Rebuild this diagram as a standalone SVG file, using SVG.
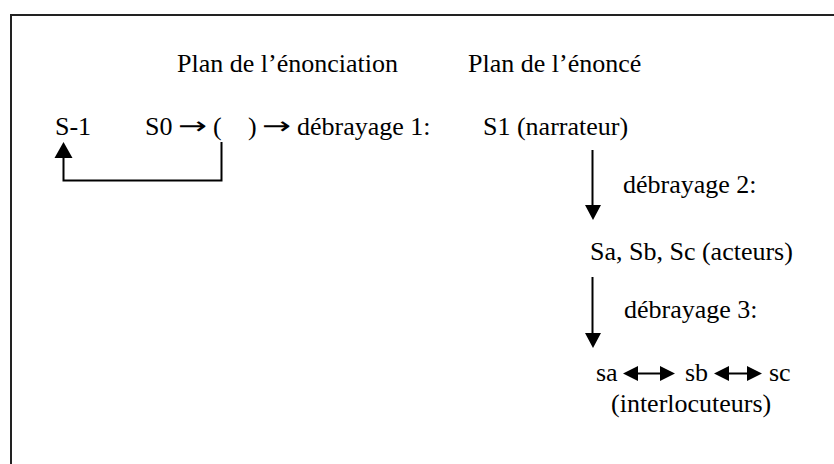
<svg xmlns="http://www.w3.org/2000/svg" width="834" height="464" viewBox="0 0 834 464">
<defs>
<style>
text{font-family:"Liberation Serif","Times New Roman",serif;font-size:26px;fill:#000}
text.arr{font-family:"DejaVu Sans",sans-serif;font-size:24px}
.ln{stroke:#000;stroke-width:2;fill:none}
.frame{stroke:#222;stroke-width:2;fill:none}
</style>
</defs>
<rect width="834" height="464" fill="#fff"/>
<path class="frame" d="M11,480 V15 H850"/>
<g id="plan-enonciation"><text x="177" y="72">Plan de l’énonciation</text></g>
<g id="plan-enonce"><text x="468" y="72">Plan de l’énoncé</text></g>
<g id="s-1"><text x="55" y="135">S-1</text></g>
<g id="s0">
<text x="145" y="135">S0</text>
<text class="arr" x="178" y="134" textLength="29" lengthAdjust="spacingAndGlyphs">→</text>
<text x="213" y="135">(</text>
<text x="248" y="135">)</text>
<text class="arr" x="262" y="134" textLength="29" lengthAdjust="spacingAndGlyphs">→</text>
<text x="297" y="135">débrayage 1:</text>
</g>
<g id="s1"><text x="483" y="135">S1 (narrateur)</text></g>
<g id="acteurs"><text x="590" y="260">Sa, Sb, Sc (acteurs)</text></g>
<g id="interlocuteurs">
<text x="596" y="381">sa</text>
<text x="685" y="381">sb</text>
<text x="769" y="381">sc</text>
<text x="611" y="412">(interlocuteurs)</text>
</g>
<g id="connectors">
<path class="ln" d="M221.5,142 V180.5 H63.5 V157"/>
<path d="M54.5,158 L72.5,158 L63.5,142 Z" fill="#000"/>
<line class="ln" x1="592.5" y1="150" x2="592.5" y2="206"/>
<path d="M585,205 L601,205 L593,220 Z" fill="#000"/>
<text x="623" y="193">débrayage 2:</text>
<line class="ln" x1="592.5" y1="277" x2="592.5" y2="334"/>
<path d="M585,333 L601,333 L593,348 Z" fill="#000"/>
<text x="624" y="318">débrayage 3:</text>
<line class="ln" x1="636" y1="373.5" x2="662" y2="373.5" stroke-width="3"/>
<path d="M623,373.5 L638,366 L638,381 Z M675,373.5 L660,366 L660,381 Z" fill="#000"/>
<line class="ln" x1="727" y1="373.5" x2="749" y2="373.5" stroke-width="3"/>
<path d="M714,373.5 L729,366 L729,381 Z M762,373.5 L747,366 L747,381 Z" fill="#000"/>
</g>
</svg>
